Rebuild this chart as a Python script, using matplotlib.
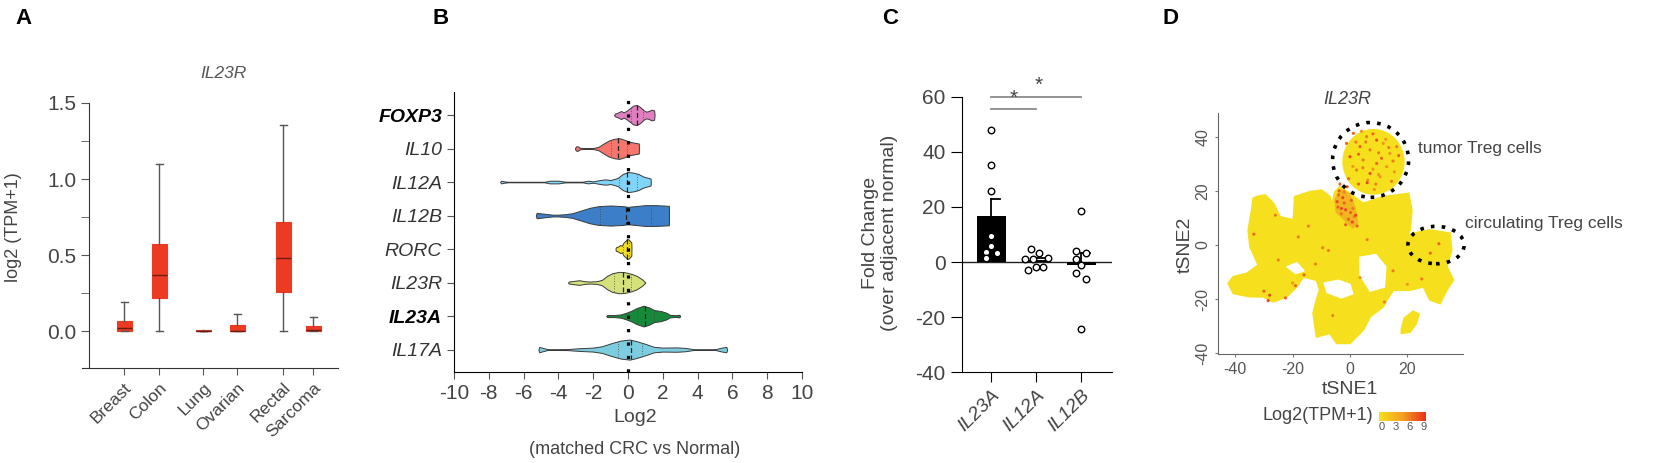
import numpy as np
import matplotlib.pyplot as plt
from matplotlib.patches import Ellipse, Polygon
from matplotlib.colors import LinearSegmentedColormap, Normalize
from matplotlib.cm import ScalarMappable

plt.rcParams['font.family'] = ['Liberation Sans', 'DejaVu Sans']
plt.rcParams['axes.unicode_minus'] = False
TXT = '#444444'

# ---------------- panel A: IL23R expression per tissue (box stats)
tissues = ['Breast', 'Colon', 'Lung', 'Ovarian', 'Rectal', 'Sarcoma']
a_q1 = [0.0, 0.22, 0.0, 0.0, 0.255, 0.0]
a_med = [0.02, 0.37, 0.0, 0.0, 0.48, 0.005]
a_q3 = [0.065, 0.575, 0.004, 0.04, 0.72, 0.03]
a_lo = [0.0, 0.0, 0.0, 0.0, 0.0, 0.0]
a_hi = [0.19, 1.10, 0.0, 0.115, 1.355, 0.095]

# ---------------- panel B: violin profiles (x, half width)
genes = ['FOXP3', 'IL10', 'IL12A', 'IL12B', 'RORC', 'IL23R', 'IL23A', 'IL17A']
gene_bold = [True, False, False, False, False, False, True, False]
violin_colors = ['#e07fc0', '#f6766d', '#7fd4f8', '#3c7fc8', '#f3df1f',
                 '#d5e27b', '#17893b', '#7dcde1']
foxp3_x = [-0.8, -0.75, -0.55, -0.4, -0.25, -0.1, 0.1, 0.3, 0.5, 0.7, 0.9, 1.05, 1.2, 1.35, 1.5, 1.53]
foxp3_w = [0.0, 0.04, 0.08, 0.12, 0.08, 0.12, 0.2, 0.28, 0.3, 0.24, 0.14, 0.1, 0.12, 0.16, 0.14, 0.0]
il10_x = [-3.05, -3.0, -2.9, -2.75, -2.5, -2.0, -1.7, -1.4, -1.1, -0.8, -0.5, -0.2, 0.1, 0.4, 0.62, 0.63]
il10_w = [0.0, 0.06, 0.07, 0.02, 0.015, 0.015, 0.05, 0.15, 0.24, 0.29, 0.31, 0.26, 0.2, 0.17, 0.15, 0.0]
il12a_x = [-7.35, -7.3, -7.1, -6.9, -4.8, -4.5, -4.0, -3.6, -2.6, -2.3, -2.0, -1.6, -1.3, -1.0,
           -0.6, -0.3, 0.0, 0.3, 0.6, 0.9, 1.2, 1.3, 1.31]
il12a_w = [0.0, 0.04, 0.02, 0.008, 0.008, 0.04, 0.04, 0.01, 0.01, 0.04, 0.02, 0.06, 0.08, 0.06,
           0.12, 0.24, 0.3, 0.28, 0.24, 0.16, 0.12, 0.1, 0.0]
il12b_x = [-5.3, -5.25, -4.9, -4.4, -4.1, -3.6, -3.2, -2.7, -2.2, -1.7, -1.0, -0.3, 0.0, 0.4,
           1.0, 1.6, 2.0, 2.35, 2.36]
il12b_w = [0.0, 0.08, 0.06, 0.03, 0.025, 0.04, 0.07, 0.15, 0.23, 0.28, 0.3, 0.28, 0.26, 0.28,
           0.31, 0.31, 0.3, 0.29, 0.0]
rorc_x = [-0.72, -0.7, -0.55, -0.45, -0.35, -0.25, -0.15, -0.05, 0.05, 0.15, 0.19, 0.2]
rorc_w = [0.0, 0.05, 0.08, 0.12, 0.1, 0.2, 0.24, 0.3, 0.28, 0.22, 0.2, 0.0]
il23r_x = [-3.45, -3.4, -3.1, -2.8, -2.5, -2.2, -1.8, -1.5, -1.2, -0.9, -0.5, -0.2, 0.2, 0.5, 0.8, 1.0]
il23r_w = [0.0, 0.03, 0.05, 0.07, 0.04, 0.03, 0.04, 0.08, 0.2, 0.28, 0.32, 0.31, 0.26, 0.2, 0.1, 0.0]
il23a_x = [-1.25, -1.2, -0.8, -0.4, -0.1, 0.2, 0.5, 0.9, 1.2, 1.5, 1.9, 2.2, 2.4, 2.7, 2.95, 3.0]
il23a_w = [0.0, 0.03, 0.03, 0.05, 0.1, 0.16, 0.24, 0.31, 0.26, 0.18, 0.15, 0.1, 0.04, 0.025, 0.04, 0.0]
il17a_x = [-5.15, -5.1, -4.9, -4.6, -3.5, -2.8, -2.0, -1.5, -0.9, -0.4, 0.1, 0.5, 1.0, 1.5,
           2.0, 2.8, 3.3, 3.8, 5.0, 5.4, 5.65, 5.7]
il17a_w = [0.0, 0.08, 0.05, 0.01, 0.015, 0.04, 0.06, 0.1, 0.2, 0.27, 0.3, 0.25, 0.17, 0.08,
           0.06, 0.065, 0.05, 0.01, 0.01, 0.06, 0.08, 0.0]
violin_x = [foxp3_x, il10_x, il12a_x, il12b_x, rorc_x, il23r_x, il23a_x, il17a_x]
violin_w = [foxp3_w, il10_w, il12a_w, il12b_w, rorc_w, il23r_w, il23a_w, il17a_w]
violin_med = [0.5, -0.55, -0.05, -0.1, -0.05, -0.3, 1.0, 0.15]
violin_q1 = [0.15, -1.0, -0.5, -1.6, -0.3, -0.8, 0.5, -0.6]
violin_q3 = [0.85, -0.05, 0.5, 1.3, 0.05, 0.2, 1.5, 0.8]

# ---------------- panel C: qPCR fold change
c_genes = ['IL23A', 'IL12A', 'IL12B']
il23a_fc = [48.0, 35.2, 25.9, 9.6, 6.0, 3.5, 3.3, 1.5]
il12a_fc = [4.8, 3.3, 1.2, 1.2, 1.6, -2.8, -1.8, -1.8]
il12b_fc = [18.6, 4.1, 3.3, 1.2, -1.2, -4.0, -6.0, -24.3]
sig_pairs = [(0, 1), (0, 2)]
sig_y = [55.5, 60.0]

# ---------------- panel D: tSNE (cluster outlines + high-expressing cells)
main_x = [-32.5, -29.6, -26.7, -24.4, -19.7, -19.2, -14.0, -9.9, -7.0, -6.4, -5.2, -3.5, -0.1, 4.6,
          8.1, 11.6, 16.3, 20.4, 21.5, 20.9, 19.7, 22.0, 27.9, 34.8, 35.4, 33.7, 36.0, 33.7, 31.4,
          27.9, 25.6, 20.9, 15.1, 12.8, 11.6, 7.0, 4.6, 0.0, -4.6, -7.0, -11.6, -12.8, -11.6, -10.5,
          -11.6, -16.3, -18.6, -22.1, -26.7, -30.2, -34.8, -40.6, -42.4, -40.6, -35.9, -31.9, -34.8,
          -35.4, -34.2, -33.7]
main_y = [17.8, 18.4, 15.3, 10.4, 9.2, 17.8, 19.6, 20.2, 17.8, 14.1, 19.6, 21.4, 19.0, 15.3,
          16.5, 17.8, 18.4, 19.0, 12.9, 5.5, 3.1, 4.3, 5.5, 4.3, -1.8, -8.0, -12.9, -16.6, -21.5,
          -20.2, -15.3, -16.6, -16.6, -20.2, -22.7, -26.4, -31.3, -36.2, -36.2, -32.5, -33.8, -25.1,
          -20.2, -16.6, -12.9, -11.7, -15.4, -19.0, -20.9, -19.0, -19.0, -17.8, -14.1, -11.7, -10.5,
          -7.4, -0.6, 5.5, 12.9, 17.2]
hole1_x = [-9.0, -4.0, 0.0, 1.0, -3.0, -8.0]
hole1_y = [-14.0, -13.0, -14.5, -18.0, -19.5, -17.5]
hole2_x = [3.5, 9.0, 12.5, 12.0, 7.0, 3.5]
hole2_y = [-4.5, -3.5, -8.0, -15.5, -17.0, -11.0]
hole3_x = [-22.0, -18.5, -16.0, -19.0]
hole3_y = [-8.0, -6.5, -9.5, -10.5]
small_x = [18.0, 19.0, 22.0, 24.0, 23.0, 21.0, 18.0]
small_y = [-31.0, -27.0, -24.5, -25.5, -29.0, -32.0, -32.5]
orange_x = [-5.5, -3.0, 0.0, 2.0, 3.0, 1.0, -2.0, -5.0]
orange_y = [17.0, 21.0, 19.0, 14.0, 8.0, 6.0, 9.0, 12.0]
tumor_center = (8.2, 30.7)
tumor_size = (21.0, 23.5)
hot_x = [1.2, 5.8, 9.3, 11.6, 3.5, 7.0, 13.9, 0.0, 4.6, 9.3, 12.8, 2.3, 7.0, 10.5, 16.3, -1.2,
         6.2, 14.5, 3.0, 8.5, -3.8, -2.5, -4.2, -1.5, -3.0, -0.5, 0.8, 1.5, -2.0, 0.2,
         -28.5, -30.0, -25.0, -19.0, -20.0, -14.5, -33.5, -7.5, 3.5, 15.0, 20.0, 25.0, 31.0, 12.0,
         -9.5, -16.0, -26.0, 6.0,
         2.0, 4.0, 8.0, 10.0, 12.5, 15.0, 17.0, 1.0, 3.0, 5.5, 8.0, 11.0, 13.5, 6.0, 9.0, 15.5,
         -0.5, 4.5, 10.0, -1.0, -3.5, -4.5, -2.0, 0.5, 2.0, -1.5, -3.0, 1.0, -4.0, 2.5,
         -12.0, -22.5, -28.0, 28.0, -6.0, -18.0]
hot_y = [41.2, 40.0, 38.7, 37.5, 36.3, 35.1, 33.8, 32.6, 31.4, 30.1, 28.9, 27.7, 26.4, 25.2,
         36.3, 37.5, 24.0, 23.5, 22.5, 20.5, 20.0, 17.5, 14.0, 13.0, 11.5, 9.5, 8.5, 10.5, 15.5, 12.0,
         -20.5, -17.0, -5.5, -15.0, -14.0, 7.0, 4.0, -2.0, -12.0, -9.5, -14.5, -12.5, 0.5, -21.0,
         -1.0, -11.0, 11.0, 2.0,
         38.0, 42.0, 41.0, 34.0, 39.0, 31.0, 33.0, 29.0, 33.5, 38.0, 28.0, 32.0, 36.0, 23.0, 22.5, 27.0,
         24.5, 28.5, 26.0, 21.5, 22.5, 16.0, 19.5, 16.5, 11.0, 7.5, 13.5, 13.5, 18.5, 7.0,
         -7.0, -19.5, -18.5, -3.0, -26.0, 3.0]
hot_v = [7, 6, 8, 5, 7, 6, 5, 8, 6, 7, 5, 6, 8, 5, 6, 7, 5, 6, 7, 5, 7, 8, 7, 8, 6, 7, 8, 6, 7, 7,
         8, 7, 6, 7, 5, 6, 7, 6, 5, 6, 5, 6, 7, 6, 6, 7, 6, 6,
         6, 5, 7, 6, 5, 6, 7, 5, 7, 6, 5, 7, 6, 8, 6, 5, 7, 6, 5, 8, 7, 8, 6, 7, 8, 7, 8, 6, 7, 7,
         6, 7, 8, 7, 6, 6]

fig = plt.figure(figsize=(16.54, 4.63), dpi=100)
W, H = 1654.0, 463.0


def px_axes(l, t, r, b):
    return fig.add_axes([l / W, 1 - b / H, (r - l) / W, (b - t) / H])


for lab, x in zip('ABCD', [15, 432, 882, 1163]):
    fig.text(x / W, 1 - 19 / H, lab, fontsize=16, fontweight='bold', va='center', ha='left')

# ======== A
axA = px_axes(82, 103, 338, 368)
a_pos = [124, 159, 203, 237, 283, 313]
stats = [dict(med=m, q1=q1, q3=q3, whislo=lo, whishi=hi, label=t)
         for t, m, q1, q3, lo, hi in zip(tissues, a_med, a_q1, a_q3, a_lo, a_hi)]
axA.bxp(stats, positions=a_pos, widths=15, capwidths=7, patch_artist=True, showfliers=False,
        boxprops=dict(facecolor='#ec3b22', edgecolor='#ec3b22', lw=0.8),
        medianprops=dict(color='#6a1c12', lw=1.0),
        whiskerprops=dict(color='#555555', lw=1.0),
        capprops=dict(color='#555555', lw=1.0))
axA.set_xlim(82, 338)
axA.set_ylim(-0.243, 1.5)
axA.spines[['top', 'right']].set_visible(False)
axA.spines['left'].set_position(('data', 89))
for s in ['left', 'bottom']:
    axA.spines[s].set_color('#333333')
axA.set_yticks([0, 0.5, 1.0, 1.5], ['0.0', '0.5', '1.0', '1.5'])
axA.set_yticks([0.25, 0.75, 1.25], minor=True)
axA.tick_params(axis='y', which='both', length=5.5, color='#555555', labelsize=15, labelcolor=TXT)
axA.set_xticks(a_pos)
axA.set_xticklabels(tissues, rotation=45, ha='right', va='top', rotation_mode='anchor',
                    fontsize=12.5, color=TXT)
axA.tick_params(axis='x', length=5, color='#555555')
fig.text(223 / W, 1 - 73 / H, 'IL23R', style='italic', fontsize=12.5, color='#555555', ha='center', va='center')
fig.text(14 / W, 1 - 227 / H, 'log2 (TPM+1)', rotation=90, fontsize=13, color=TXT, ha='center', va='center')

# ======== B
axB = px_axes(454, 92, 802, 371.7)
for i in range(len(genes)):
    x = np.array(violin_x[i])
    w = np.array(violin_w[i])
    axB.fill_between(x, i - w, i + w, facecolor=violin_colors[i], edgecolor='#3a3a3a', lw=0.7, zorder=2)
    wm = np.interp(violin_med[i], x, w)
    axB.plot([violin_med[i]] * 2, [i - wm, i + wm], color='#222222', lw=0.9, ls=(0, (4, 2)), zorder=3)
    for q in (violin_q1[i], violin_q3[i]):
        wq = np.interp(q, x, w)
        axB.plot([q, q], [i - wq, i + wq], color='#444444', lw=0.6, ls=(0, (1, 2)), zorder=3)
axB.axvline(0, color='black', lw=2.3, ls=(0, (1, 3.2)), zorder=4)
axB.set_xlim(-10, 10)
axB.set_ylim(7.66, -0.687)
axB.spines[['top', 'right']].set_visible(False)
axB.set_xticks(range(-10, 11, 2))
axB.tick_params(axis='x', labelsize=15, labelcolor=TXT, length=5, color='#555555')
axB.set_yticks(range(len(genes)))
axB.set_yticklabels(genes, fontsize=14, color='#333333')
for t, b in zip(axB.get_yticklabels(), gene_bold):
    t.set_fontstyle('italic')
    if b:
        t.set_fontweight('bold')
        t.set_color('black')
axB.tick_params(axis='y', length=5, color='#555555')
fig.text(635 / W, 1 - 418 / H, 'Log2', fontsize=14, color=TXT, ha='center', va='center')
fig.text(635 / W, 1 - 450 / H, '(matched CRC vs Normal)', fontsize=13, color=TXT, ha='center', va='center')

# ======== C
axC = px_axes(961.7, 96.7, 1111.7, 372.3)
c_vals = [il23a_fc, il12a_fc, il12b_fc]
c_dx = [[0, 0, 0, 0, 0, -0.12, 0.125, -0.12],
        [-0.11, 0.07, -0.24, -0.07, 0.26, -0.19, 0.0, 0.16],
        [0, -0.13, 0.11, -0.13, 0, -0.13, 0.11, 0]]
means = [np.mean(v) for v in c_vals]
sems = [np.std(v, ddof=1) / np.sqrt(len(v)) for v in c_vals]
axC.bar(range(3), means, width=0.64, color='black', zorder=2)
for i in range(3):
    top = means[i] + sems[i]
    axC.plot([i, i], [means[i], top], color='black', lw=1.3, zorder=2)
    axC.plot([i, i + 0.2], [top, top], color='black', lw=1.3, zorder=2)
    axC.scatter(np.array(c_dx[i]) + i, c_vals[i], s=22, facecolor='white', edgecolor='black',
                lw=1.0, zorder=3)
axC.axhline(0, color='#222222', lw=1.0, zorder=1)
for (a, b), y in zip(sig_pairs, sig_y):
    axC.plot([a, b], [y, y], color='#8a8a8a', lw=1.3, clip_on=False)
    axC.text((a + b) / 2 + (0.05 if b == 2 else 0), y + 0.6, '*', ha='center', va='bottom',
             fontsize=15, color='#444444')
axC.set_xlim(-0.65, 2.67)
axC.set_ylim(-40, 60)
axC.spines[['top', 'right']].set_visible(False)
axC.set_yticks([-40, -20, 0, 20, 40, 60])
axC.tick_params(axis='y', labelsize=15, labelcolor=TXT, length=8)
axC.set_xticks(range(3))
axC.set_xticklabels(c_genes, rotation=45, ha='right', va='top', rotation_mode='anchor',
                    fontsize=14, style='italic', color=TXT)
axC.tick_params(axis='x', length=7)
fig.text(880 / W, 1 - 233 / H, 'Fold Change\n(over adjacent normal)', rotation=90, fontsize=14,
         color=TXT, ha='center', va='center', linespacing=1.1)

# ======== D
yellow = '#f6e01e'
cmap = LinearSegmentedColormap.from_list('ylr', ['#f6e01e', '#f3a01f', '#e8301e'])
axD = px_axes(1218, 113.3, 1462.7, 354.3)
axD.add_patch(Polygon(np.column_stack([main_x, main_y]), closed=True, facecolor=yellow, edgecolor=yellow, lw=1.5))
for hx, hy in [(hole1_x, hole1_y), (hole2_x, hole2_y), (hole3_x, hole3_y)]:
    axD.add_patch(Polygon(np.column_stack([hx, hy]), closed=True, facecolor='white', edgecolor='white', lw=1))
axD.add_patch(Polygon(np.column_stack([small_x, small_y]), closed=True, facecolor=yellow, edgecolor=yellow, lw=1.5))
axD.add_patch(Ellipse(tumor_center, tumor_size[0], tumor_size[1], facecolor=yellow, edgecolor=yellow, lw=1.5))
axD.add_patch(Polygon(np.column_stack([orange_x, orange_y]), closed=True, facecolor='#f2b421', edgecolor='none'))
axD.scatter(hot_x, hot_y, c=hot_v, cmap=cmap, vmin=0, vmax=9, s=5, lw=0, zorder=3)
axD.add_patch(Ellipse((7.2, 31.4), 26.5, 27.6, facecolor='none', edgecolor='black', lw=2.6,
                      ls=(0, (1, 2.0)), zorder=4))
axD.add_patch(Ellipse((30.0, 0.0), 19.6, 13.8, facecolor='none', edgecolor='black', lw=2.6,
                      ls=(0, (1, 2.0)), zorder=4, clip_on=False))
axD.set_xlim(-46, 39.3)
axD.set_ylim(-40.3, 48.6)
axD.spines[['top', 'right']].set_visible(False)
for s in ['left', 'bottom']:
    axD.spines[s].set_color('#666666')
    axD.spines[s].set_linewidth(0.8)
axD.set_xticks([-40, -20, 0, 20])
axD.set_yticks([-40, -20, 0, 20, 40])
axD.tick_params(axis='both', labelsize=11.5, labelcolor='#555555', length=2, color='#777777')
for t in axD.get_yticklabels():
    t.set_rotation(90)
    t.set_va('center')
fig.text(1347 / W, 1 - 100 / H, 'IL23R', style='italic', fontsize=13, color=TXT, ha='center', va='center')
fig.text(1350 / W, 1 - 390 / H, 'tSNE1', fontsize=14, color=TXT, ha='center', va='center')
fig.text(1185 / W, 1 - 245 / H, 'tSNE2', rotation=90, fontsize=14, color=TXT, ha='center', va='center')
fig.text(1418 / W, 1 - 149 / H, 'tumor Treg cells', fontsize=12.5, color=TXT, ha='left', va='center')
fig.text(1465 / W, 1 - 223 / H, 'circulating Treg cells', fontsize=12.5, color=TXT, ha='left', va='center')
fig.text(1373 / W, 1 - 416 / H, 'Log2(TPM+1)', fontsize=13, color=TXT, ha='right', va='center')
cax = px_axes(1379, 411.7, 1426, 421)
cb = fig.colorbar(ScalarMappable(norm=Normalize(-0.6, 9.6), cmap=cmap), cax=cax, orientation='horizontal')
cb.outline.set_visible(False)
cb.set_ticks([0, 3, 6, 9])
cax.tick_params(labelsize=8, labelcolor='#555555', length=0, pad=1)

fig.savefig('out.png', dpi=100)
